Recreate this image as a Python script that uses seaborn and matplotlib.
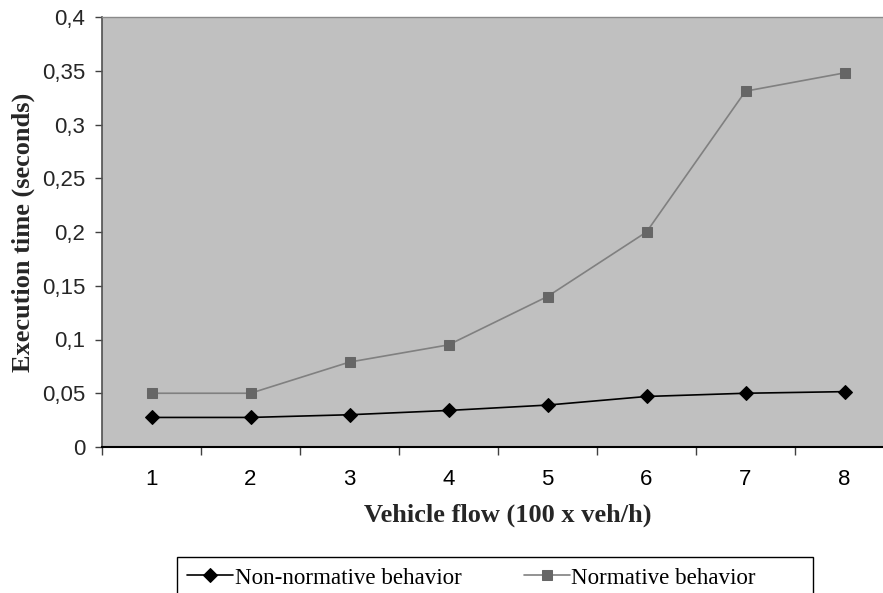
import matplotlib
matplotlib.use("Agg")
import matplotlib.pyplot as plt
import matplotlib.ticker as mticker
import matplotlib.patches as mpatches
import seaborn as sns
import pandas as pd

vehicle_flow = [1, 2, 3, 4, 5, 6, 7, 8]
non_normative = [0.0275, 0.0275, 0.030, 0.034, 0.039, 0.047, 0.050, 0.0515]
normative = [0.050, 0.050, 0.079, 0.095, 0.140, 0.200, 0.331, 0.348]
series_names = ["Non-normative behavior", "Normative behavior"]
y_ticks = [0, 0.05, 0.1, 0.15, 0.2, 0.25, 0.3, 0.35, 0.4]

df = pd.DataFrame({
    "flow": vehicle_flow * 2,
    "time": non_normative + normative,
    "series": [series_names[0]] * len(vehicle_flow) + [series_names[1]] * len(vehicle_flow),
})

sns.set_theme(style="white")
plt.rcParams["font.family"] = ["Liberation Sans", "DejaVu Sans"]

W, H = 883, 593
fig = plt.figure(figsize=(W / 100, H / 100), dpi=100)
ax_left, ax_right, ax_top, ax_bottom = 102, 894, 17, 447
ax = fig.add_axes([ax_left / W, 1 - ax_bottom / H, (ax_right - ax_left) / W, (ax_bottom - ax_top) / H])
ax.set_facecolor("#C0C0C0")

sns.lineplot(data=df, x="flow", y="time", hue="series", style="series",
             palette={series_names[0]: "#000000", series_names[1]: "#808080"},
             markers={series_names[0]: "D", series_names[1]: "s"},
             dashes=False, linewidth=1.2, ax=ax, legend=True)

for ln in ax.get_lines():
    c = matplotlib.colors.to_hex(ln.get_color())
    if c == "#000000":
        ln.set_markersize(7.5)
        ln.set_markerfacecolor("#000000")
        ln.set_markeredgecolor("#000000")
        ln.set_zorder(4)
    else:
        ln.set_markersize(6.5)
        ln.set_markerfacecolor("#666666")
        ln.set_markeredgecolor("#666666")
        ln.set_zorder(3)

handles, labels = ax.get_legend_handles_labels()
if ax.get_legend() is not None:
    ax.get_legend().remove()

ax.set_xlim(0.5, 8.5)
ax.set_ylim(0, 0.4)
ax.set_xticks(vehicle_flow)
ax.set_xticklabels([str(v) for v in vehicle_flow])
ax.xaxis.set_minor_locator(mticker.FixedLocator([v + 0.5 for v in [0] + vehicle_flow]))
ax.tick_params(axis="x", which="major", length=0, pad=15.5, labelsize=16, colors="#000000")
ax.tick_params(axis="x", which="minor", length=6, width=1, direction="out", color="#404040", bottom=True)
ax.set_yticks(y_ticks)
ax.set_yticklabels([("%g" % v).replace(".", ",") for v in y_ticks])
ax.tick_params(axis="y", which="major", length=5, width=1, direction="out", pad=7,
               labelsize=16, color="#404040", left=True)

ax.set_xlabel("")
ax.set_ylabel("")

for side, sp in ax.spines.items():
    sp.set_visible(True)
ax.spines["left"].set_color("#505050")
ax.spines["left"].set_linewidth(1.2)
ax.spines["top"].set_color("#8a8a8a")
ax.spines["top"].set_linewidth(1.0)
ax.spines["bottom"].set_color("#000000")
ax.spines["bottom"].set_linewidth(1.5)
ax.spines["right"].set_visible(False)

serif = ["Liberation Serif", "DejaVu Serif"]
fig.text(508 / W, 1 - 515 / H, "Vehicle flow (100 x veh/h)", family=serif,
         fontweight="bold", fontsize=19, ha="center", va="center")
fig.text(23 / W, 1 - 232 / H, "Execution time (seconds)", family=serif,
         fontweight="bold", fontsize=19, ha="center", va="center", rotation=90)

# legend frame (box extends past the bottom edge of the image)
frame = mpatches.Rectangle((177 / W, -10 / H), (813 - 177) / W, (593 - 557 + 10) / H,
                           transform=fig.transFigure, facecolor="white",
                           edgecolor="#000000", linewidth=1.0, zorder=1)
fig.patches.append(frame)

leg = fig.legend(handles, labels, loc="upper left", bbox_to_anchor=(177 / W, 1 - 557 / H),
                 bbox_transform=fig.transFigure, ncol=2, frameon=False,
                 prop={"family": serif, "size": 16.6}, handlelength=2.0, handletextpad=0.05,
                 columnspacing=2.7, borderpad=0.45, borderaxespad=0)
leg.set_zorder(2)
for t in leg.get_texts():
    t.set_color("#000000")

fig.savefig("out.png", dpi=100)
